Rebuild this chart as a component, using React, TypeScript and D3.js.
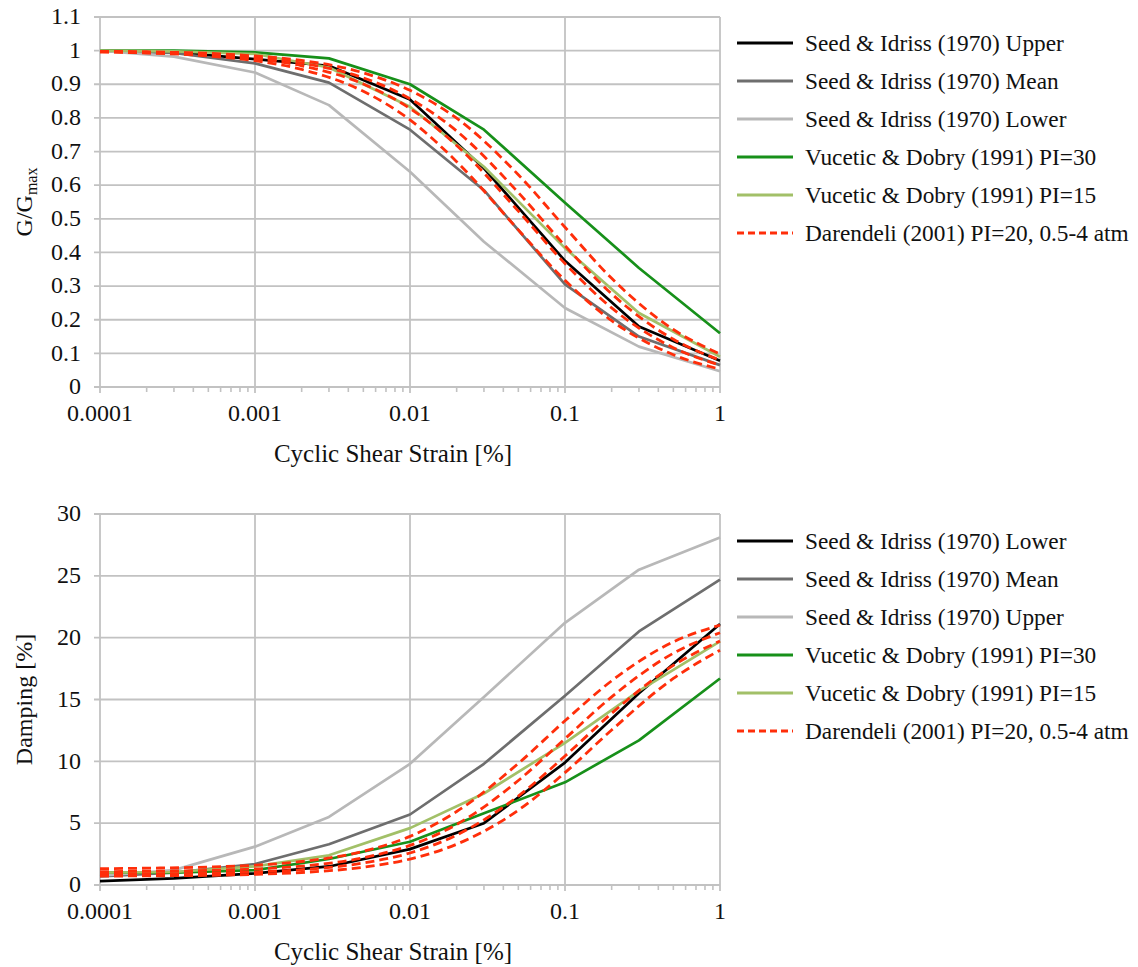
import React from "react";
import * as d3 from "d3";

// ---------- DATA ----------
const strainsSI = [0.0001, 0.0003, 0.001, 0.003, 0.01, 0.03, 0.1, 0.3, 1];
const strainsDar = [0.0001, 0.0002, 0.0005, 0.001, 0.002, 0.005, 0.01, 0.02, 0.05, 0.1, 0.2, 0.5, 1];

// G/Gmax
const siUpperG = [1.0, 0.995, 0.975, 0.955, 0.855, 0.65, 0.375, 0.18, 0.078];
const siMeanG = [1.0, 0.993, 0.962, 0.905, 0.765, 0.585, 0.305, 0.15, 0.065];
const siLowerG = [1.0, 0.982, 0.935, 0.838, 0.64, 0.432, 0.235, 0.12, 0.047];
const vd30G = [1.0, 1.0, 0.995, 0.977, 0.9, 0.765, 0.548, 0.354, 0.16];
const vd15G = [1.0, 0.998, 0.99, 0.95, 0.833, 0.655, 0.413, 0.22, 0.09];
const dar05G = [0.996, 0.993, 0.984, 0.970, 0.944, 0.879, 0.794, 0.670, 0.467, 0.317, 0.197, 0.096, 0.053];
const dar1G = [0.997, 0.994, 0.987, 0.976, 0.955, 0.901, 0.828, 0.718, 0.523, 0.367, 0.235, 0.117, 0.065];
const dar2G = [0.998, 0.996, 0.990, 0.980, 0.963, 0.919, 0.857, 0.761, 0.578, 0.420, 0.277, 0.142, 0.080];
const dar4G = [0.998, 0.996, 0.992, 0.984, 0.971, 0.934, 0.882, 0.799, 0.631, 0.475, 0.323, 0.171, 0.098];

// Damping [%]
const siLowerD = [0.32, 0.54, 0.94, 1.5, 2.9, 5.0, 9.9, 15.5, 21.1];
const siMeanD = [0.7, 1.0, 1.7, 3.3, 5.7, 9.8, 15.3, 20.5, 24.7];
const siUpperD = [0.75, 1.2, 3.1, 5.5, 9.8, 15.2, 21.2, 25.5, 28.1];
const vd30D = [1.0, 1.0, 1.2, 2.1, 3.5, 5.8, 8.3, 11.7, 16.7];
const vd15D = [1.0, 1.05, 1.5, 2.4, 4.6, 7.4, 11.5, 15.7, 19.7];
const dar05D = [1.32, 1.36, 1.45, 1.60, 1.90, 2.72, 3.93, 5.94, 9.83, 13.28, 16.51, 19.66, 21.01];
const dar1D = [1.08, 1.11, 1.18, 1.30, 1.53, 2.20, 3.20, 4.90, 8.45, 11.83, 15.21, 18.74, 20.40];
const dar2D = [0.89, 0.90, 0.96, 1.06, 1.24, 1.78, 2.59, 4.04, 7.19, 10.43, 13.88, 17.76, 19.73];
const dar4D = [0.72, 0.74, 0.78, 0.86, 1.01, 1.44, 2.10, 3.30, 6.05, 9.09, 12.53, 16.70, 18.99];

const xTickValues = [0.0001, 0.001, 0.01, 0.1, 1];
const xTickLabels = ["0.0001", "0.001", "0.01", "0.1", "1"];
const gTicks = [0, 0.1, 0.2, 0.3, 0.4, 0.5, 0.6, 0.7, 0.8, 0.9, 1, 1.1];
const gTickLabels = ["0", "0.1", "0.2", "0.3", "0.4", "0.5", "0.6", "0.7", "0.8", "0.9", "1", "1.1"];
const dTicks = [0, 5, 10, 15, 20, 25, 30];

const topLegend = [
  "Seed & Idriss (1970) Upper",
  "Seed & Idriss (1970) Mean",
  "Seed & Idriss (1970) Lower",
  "Vucetic & Dobry (1991) PI=30",
  "Vucetic & Dobry (1991) PI=15",
  "Darendeli (2001) PI=20, 0.5-4 atm",
];
const bottomLegend = [
  "Seed & Idriss (1970) Lower",
  "Seed & Idriss (1970) Mean",
  "Seed & Idriss (1970) Upper",
  "Vucetic & Dobry (1991) PI=30",
  "Vucetic & Dobry (1991) PI=15",
  "Darendeli (2001) PI=20, 0.5-4 atm",
];

// ---------- STYLE ----------
const FONT = "'Liberation Serif', 'Times New Roman', serif";
const GRID = "#c2c2c2";
const C_BLACK = "#000000";
const C_DGRAY = "#6e6e6e";
const C_LGRAY = "#b8b8b8";
const C_GREEN = "#17901a";
const C_LGREEN = "#a2c068";
const C_RED = "#ff2e0a";
const legendStyles = [
  { c: C_BLACK, dash: undefined },
  { c: C_DGRAY, dash: undefined },
  { c: C_LGRAY, dash: undefined },
  { c: C_GREEN, dash: undefined },
  { c: C_LGREEN, dash: undefined },
  { c: C_RED, dash: "7,4" },
];

type PanelProps = {
  top: number;
  bottom: number;
  yDomain: [number, number];
  yTicks: number[];
  yLabels: string[];
  solid: { vals: number[]; color: string }[];
  dar: number[][];
  legend: string[];
  legendY0: number;
  yTitle: React.ReactNode;
};

const LEFT = 100;
const RIGHT = 720;

function Panel(p: PanelProps) {
  const x = d3.scaleLog().domain([1e-4, 1]).range([LEFT, RIGHT]);
  const y = d3.scaleLinear().domain(p.yDomain).range([p.bottom, p.top]);
  const lineSI = d3
    .line<number>()
    .x((_, i) => x(strainsSI[i]))
    .y((v) => y(v));
  const lineDar = d3
    .line<number>()
    .x((_, i) => x(strainsDar[i]))
    .y((v) => y(v))
    .curve(d3.curveMonotoneX);
  const minor: number[] = [];
  for (let e = -4; e < 0; e++) {
    for (let m = 2; m <= 9; m++) minor.push(m * Math.pow(10, e));
  }
  const midY = (p.top + p.bottom) / 2;
  return (
    <g>
      {p.yTicks.map((t, i) => (
        <line key={"hg" + i} x1={LEFT - 6} x2={RIGHT} y1={y(t)} y2={y(t)} stroke={GRID} strokeWidth={1.8} />
      ))}
      {xTickValues.map((t, i) => (
        <line key={"vg" + i} x1={x(t)} x2={x(t)} y1={p.top} y2={p.bottom + 6} stroke={GRID} strokeWidth={1.8} />
      ))}
      {minor.map((t, i) => (
        <line key={"mt" + i} x1={x(t)} x2={x(t)} y1={p.bottom} y2={p.bottom + 5} stroke={GRID} strokeWidth={1.6} />
      ))}
      {p.yTicks.map((t, i) => (
        <text key={"yl" + i} x={81} y={y(t)} dy="0.3em" textAnchor="end" fontFamily={FONT} fontSize={24} fill="#111">
          {p.yLabels[i]}
        </text>
      ))}
      {xTickValues.map((t, i) => (
        <text key={"xl" + i} x={x(t)} y={p.bottom + 34} textAnchor="middle" fontFamily={FONT} fontSize={24} fill="#111">
          {xTickLabels[i]}
        </text>
      ))}
      <text x={393} y={p.bottom + 75} textAnchor="middle" fontFamily={FONT} fontSize={25} fill="#111">
        Cyclic Shear Strain [%]
      </text>
      <text
        transform={`translate(24, ${midY}) rotate(-90)`}
        textAnchor="middle"
        dy="0.35em"
        fontFamily={FONT}
        fontSize={24}
        fill="#111"
      >
        {p.yTitle}
      </text>
      {p.solid.map((s, i) => (
        <path key={"s" + i} d={lineSI(s.vals) || ""} fill="none" stroke={s.color} strokeWidth={2.7} strokeLinejoin="round" />
      ))}
      {p.dar.map((vals, i) => (
        <path key={"d" + i} d={lineDar(vals) || ""} fill="none" stroke={C_RED} strokeWidth={2.8} strokeDasharray="9,5" />
      ))}
      {p.legend.map((lab, i) => {
        const ly = p.legendY0 + i * 38;
        const st = legendStyles[i];
        return (
          <g key={"lg" + i}>
            <line x1={737} x2={793} y1={ly} y2={ly} stroke={st.c} strokeWidth={3} strokeDasharray={st.dash} />
            <text x={805} y={ly} dy="0.35em" fontFamily={FONT} fontSize={23.3} fill="#111">
              {lab}
            </text>
          </g>
        );
      })}
    </g>
  );
}

export default function App() {
  return (
    <svg
      width={1138}
      height={967}
      viewBox="0 0 1138 967"
      style={{ position: "absolute", left: 0, top: 0, background: "#fff" }}
    >
      <rect x={0} y={0} width={1138} height={967} fill="#fff" />
      <Panel
        top={17}
        bottom={387}
        yDomain={[0, 1.1]}
        yTicks={gTicks}
        yLabels={gTickLabels}
        solid={[
          { vals: siUpperG, color: C_BLACK },
          { vals: siMeanG, color: C_DGRAY },
          { vals: siLowerG, color: C_LGRAY },
          { vals: vd30G, color: C_GREEN },
          { vals: vd15G, color: C_LGREEN },
        ]}
        dar={[dar05G, dar1G, dar2G, dar4G]}
        legend={topLegend}
        legendY0={43}
        yTitle={
          <>
            G/G
            <tspan fontSize={16} dy="5">max</tspan>
          </>
        }
      />
      <Panel
        top={514}
        bottom={885}
        yDomain={[0, 30]}
        yTicks={dTicks}
        yLabels={dTicks.map((d) => String(d))}
        solid={[
          { vals: siLowerD, color: C_BLACK },
          { vals: siMeanD, color: C_DGRAY },
          { vals: siUpperD, color: C_LGRAY },
          { vals: vd30D, color: C_GREEN },
          { vals: vd15D, color: C_LGREEN },
        ]}
        dar={[dar05D, dar1D, dar2D, dar4D]}
        legend={bottomLegend}
        legendY0={541}
        yTitle={"Damping [%]"}
      />
    </svg>
  );
}
